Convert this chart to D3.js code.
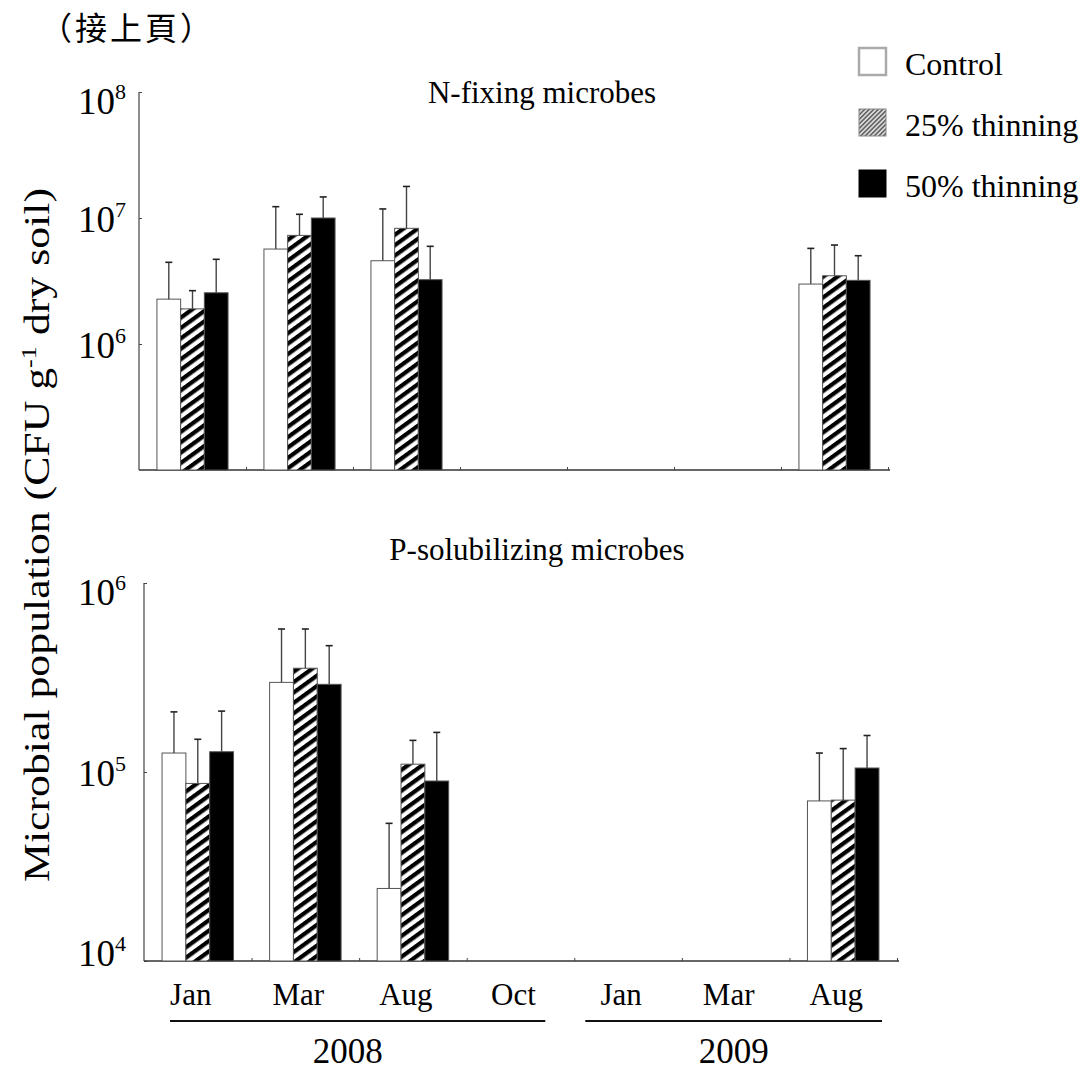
<!DOCTYPE html>
<html><head><meta charset="utf-8">
<script src="https://cdn.jsdelivr.net/npm/d3@7"></script>
<style>
html,body{margin:0;padding:0;background:#fff;}
svg text{font-family:"Liberation Serif","Times New Roman",serif;fill:#000;}
</style></head>
<body>
<svg id="chart" width="1085" height="1075"></svg>
<script>
// ---------- data ----------
const months = ["Jan","Mar","Aug","Oct","Jan","Mar","Aug"];
const years = ["2008","2009"];
const yearGroups = [[0,3],[4,6]];
const series = ["Control","25% thinning","50% thinning"];

// N-fixing microbes (CFU g-1 dry soil), null = not sampled
const nfixControl   = [2.27e6, 5.67e6, 4.58e6, null, null, null, 2.99e6];
const nfixControlSE = [2.18e6, 6.63e6, 7.22e6, null, null, null, 2.75e6];
const nfix25        = [1.90e6, 7.28e6, 8.28e6, null, null, null, 3.48e6];
const nfix25SE      = [0.75e6, 3.42e6, 9.52e6, null, null, null, 2.62e6];
const nfix50        = [2.55e6, 1.00e7, 3.24e6, null, null, null, 3.20e6];
const nfix50SE      = [2.15e6, 4.70e6, 2.72e6, null, null, null, 1.82e6];

// P-solubilizing microbes
const psolControl   = [1.26e5, 2.98e5, 2.42e4, null, null, null, 7.03e4];
const psolControlSE = [8.2e4, 2.73e5, 2.93e4, null, null, null, 5.57e4];
const psol25        = [8.7e4, 3.54e5, 1.10e5, null, null, null, 7.1e4];
const psol25SE      = [6.2e4, 2.17e5, 3.7e4, null, null, null, 6.2e4];
const psol50        = [1.28e5, 2.91e5, 8.96e4, null, null, null, 1.05e5];
const psol50SE      = [8.2e4, 1.75e5, 7.24e4, null, null, null, 5.1e4];

const nfixTicks = [1e6, 1e7, 1e8];
const psolTicks = [1e4, 1e5, 1e6];

// ---------- drawing ----------
const svg = d3.select("#chart");
const defs = svg.append("defs");

const hatch = defs.append("pattern").attr("id","hatch")
  .attr("patternUnits","userSpaceOnUse").attr("width",8.4).attr("height",8.4)
  .attr("patternTransform","rotate(-36)");
hatch.append("rect").attr("width",8.4).attr("height",8.4).attr("fill","#fff");
hatch.append("rect").attr("width",8.4).attr("height",4.2).attr("fill","#000");

const hatchFine = defs.append("pattern").attr("id","hatchFine")
  .attr("patternUnits","userSpaceOnUse").attr("width",3.2).attr("height",3.2)
  .attr("patternTransform","rotate(-45)");
hatchFine.append("rect").attr("width",3.2).attr("height",3.2).attr("fill","#d8d8d8");
hatchFine.append("rect").attr("width",3.2).attr("height",1.4).attr("fill","#555");

defs.append("filter").attr("id","soft").append("feGaussianBlur").attr("stdDeviation",0.7);

const fills = ["#fff","url(#hatch)","#000"];
const idx = d3.range(months.length);

function panel(cfg){
  const x = d3.scaleBand().domain(idx).range(cfg.xr).paddingInner(0).paddingOuter(0);
  const xs = d3.scaleBand().domain(d3.range(series.length)).range([0, x.bandwidth()])
    .paddingInner(0).paddingOuter(0.757);
  const y = d3.scaleLog().domain(cfg.dom).range(cfg.yr);
  const g = svg.append("g");
  const base = y(cfg.dom[0]);

  // axes
  const yAxis = d3.axisLeft(y).tickValues(cfg.ticks).tickSize(-3).tickFormat("");
  g.append("g").attr("transform",`translate(${cfg.xr[0]},0)`).call(yAxis)
    .call(a=>{a.select(".domain").attr("stroke","#444").attr("stroke-width",1.2).attr("d",`M0,${cfg.yr[1]}V${base}`);
              a.selectAll(".tick line").attr("stroke","#444");});
  const bounds = idx.map(i=>x(i)).concat([cfg.xr[1]]).slice(1);
  const xLine = d3.axisBottom(d3.scaleLinear().domain(cfg.xr).range(cfg.xr))
    .tickValues(bounds).tickSize(-3).tickFormat("");
  g.append("g").attr("transform",`translate(0,${base})`).call(xLine)
    .call(a=>{a.select(".domain").attr("stroke","#333").attr("stroke-width",1.5).attr("d",`M${cfg.xr[0]},0H${cfg.xr[1]+2}`);
              a.selectAll(".tick line").attr("stroke","#444");});

  // tick labels 10^n
  cfg.ticks.forEach(t=>{
    const e = Math.round(Math.log10(t));
    const yb = Math.max(cfg.yr[1]+22, Math.min(base+5, y(t)+14));
    const tx = g.append("text").attr("x",78).attr("y",yb).attr("font-size",37);
    tx.append("tspan").text("10");
    tx.append("tspan").attr("font-size",22).attr("dy",-15).text(e);
  });

  // bars
  cfg.vals.forEach((arr,s)=>{
    const se = cfg.ses[s];
    idx.forEach(i=>{
      const v = arr[i];
      if(v==null) return;
      const bx = x(i)+xs(s), bw = xs.bandwidth();
      g.append("rect").attr("x",bx).attr("y",y(v)).attr("width",bw).attr("height",base-y(v))
        .attr("fill",fills[s]).attr("stroke","#555").attr("stroke-width",1);
      const cx = bx+bw/2, yt = y(v+se[i]);
      g.append("line").attr("x1",cx).attr("x2",cx).attr("y1",y(v)).attr("y2",yt)
        .attr("stroke","#444").attr("stroke-width",1.4);
      g.append("line").attr("x1",cx-3.5).attr("x2",cx+3.5).attr("y1",yt).attr("y2",yt)
        .attr("stroke","#222").attr("stroke-width",1.6);
    });
  });

  g.append("text").attr("x",cfg.titleX).attr("y",cfg.titleY).attr("text-anchor","middle")
    .attr("font-size",31).text(cfg.title);
  return {x, y, base};
}

panel({title:"N-fixing microbes", titleX:542, titleY:103,
  xr:[139,888], yr:[470,92], dom:[1e5,1e8], ticks:nfixTicks,
  vals:[nfixControl,nfix25,nfix50], ses:[nfixControlSE,nfix25SE,nfix50SE]});
const P = panel({title:"P-solubilizing microbes", titleX:537, titleY:560,
  xr:[144,897], yr:[961,583], dom:[1e4,1e6], ticks:psolTicks,
  vals:[psolControl,psol25,psol50], ses:[psolControlSE,psol25SE,psol50SE]});

// month labels
svg.append("g").selectAll("text").data(idx).join("text")
  .attr("x",i=>P.x(i)+P.x.bandwidth()/2-7).attr("y",1005).attr("text-anchor","middle")
  .attr("font-size",31).text(i=>months[i]);

// year lines & labels
const insets = [[26,29],[11,15]];
yearGroups.forEach((gr,k)=>{
  const x1 = P.x(gr[0])+insets[k][0], x2 = P.x(gr[1])+P.x.bandwidth()-insets[k][1];
  svg.append("line").attr("x1",x1).attr("x2",x2).attr("y1",1021).attr("y2",1021)
    .attr("stroke","#111").attr("stroke-width",2);
  svg.append("text").attr("x",(x1+x2)/2-(k===0?10:0)).attr("y",1063).attr("text-anchor","middle")
    .attr("font-size",35).text(years[k]);
});

// y axis title
const yt = svg.append("text").attr("transform","translate(49,535) rotate(-90)")
  .attr("text-anchor","middle").attr("font-size",35)
  .attr("textLength",694).attr("lengthAdjust","spacingAndGlyphs");
yt.append("tspan").text("Microbial population (CFU g");
yt.append("tspan").attr("font-size",21).attr("dy",-13).text("-1");
yt.append("tspan").attr("dy",13).text(" dry soil)");

// legend
const legFills = ["#fff","url(#hatchFine)","#000"];
const leg = svg.append("g");
series.forEach((s,i)=>{
  const yy = 48 + i*61;
  leg.append("rect").attr("x",859).attr("y",yy).attr("width",27).attr("height",27)
    .attr("fill",legFills[i]).attr("stroke",i===0?"#aaa":(i===1?"#888":"#000"))
    .attr("stroke-width",i===0?2.5:1).attr("filter","url(#soft)");
  leg.append("text").attr("x",905).attr("y",yy+27).attr("font-size",32).text(s);
});

// header
svg.append("text").attr("x",40).attr("y",40).attr("font-size",32).attr("letter-spacing",3)
  .style("font-family",'"Noto Sans CJK TC","Noto Sans CJK JP",sans-serif').text("（接上頁）");
</script>
</body></html>
